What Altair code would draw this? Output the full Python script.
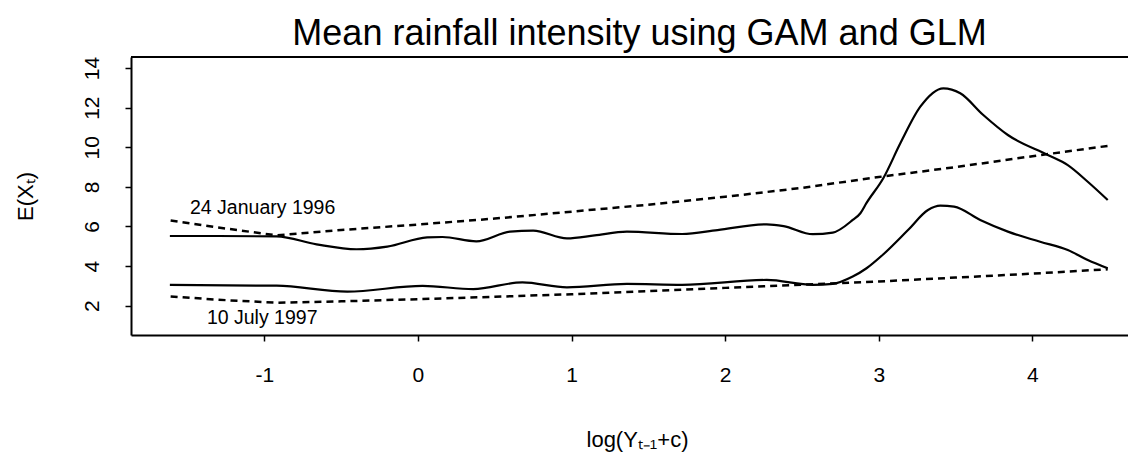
import altair as alt
import pandas as pd

# ---- data ----
gam_jan_x = [-1.615, -1.3, -0.92, -0.66, -0.40, -0.2, 0.06, 0.16, 0.38, 0.60, 0.75, 0.97, 1.15, 1.36,
             1.72, 1.95, 2.27, 2.38, 2.57, 2.70, 2.83, 2.88, 2.92, 3.03, 3.14, 3.27, 3.42, 3.53,
             3.68, 3.84, 4.10, 4.23, 4.36, 4.49]
gam_jan_y = [5.52, 5.52, 5.50, 5.10, 4.85, 4.98, 5.45, 5.47, 5.25, 5.74, 5.79, 5.40, 5.55, 5.74,
             5.62, 5.82, 6.11, 6.02, 5.61, 5.69, 6.33, 6.67, 7.19, 8.45, 10.2, 12.05, 12.98, 12.73,
             11.63, 10.62, 9.61, 9.10, 8.26, 7.34]

gam_jul_x = [-1.615, -0.92, -0.46, 0.03, 0.36, 0.68, 0.97, 1.36, 1.72, 2.27, 2.57, 2.70, 2.83, 2.92,
             3.03, 3.19, 3.32, 3.40, 3.49, 3.66, 3.84, 4.05, 4.23, 4.36, 4.49]
gam_jul_y = [3.05, 3.01, 2.71, 3.00, 2.84, 3.18, 2.93, 3.10, 3.05, 3.30, 3.05, 3.10, 3.47, 3.89,
             4.60, 5.82, 6.83, 7.05, 7.00, 6.33, 5.74, 5.23, 4.81, 4.31, 3.89]

glm_x = [-1.61, -1.3, -0.92, -0.5, 0, 0.5, 1, 1.5, 2, 2.5, 3, 3.5, 4, 4.49]
glm_jan_y = [6.30, 5.95, 5.55, 5.82, 6.10, 6.40, 6.75, 7.10, 7.50, 7.95, 8.50, 9.00, 9.55, 10.07]
glm_jul_y = [2.47, 2.30, 2.15, 2.22, 2.33, 2.45, 2.58, 2.74, 2.90, 3.06, 3.22, 3.42, 3.62, 3.84]

x_ticks = [-1, 0, 1, 2, 3, 4]
y_ticks = [2, 4, 6, 8, 10, 12, 14]

labels_text = ["24 January 1996", "10 July 1997"]
labels_x = [-1.484, -1.374]
labels_y = [6.93, 1.38]

# ---- tables ----
gam = pd.concat([
    pd.DataFrame({"x": gam_jan_x, "y": gam_jan_y, "series": "jan"}),
    pd.DataFrame({"x": gam_jul_x, "y": gam_jul_y, "series": "jul"}),
])
glm = pd.concat([
    pd.DataFrame({"x": glm_x, "y": glm_jan_y, "series": "jan"}),
    pd.DataFrame({"x": glm_x, "y": glm_jul_y, "series": "jul"}),
])
lab = pd.DataFrame({"x": labels_x, "y": labels_y, "t": labels_text})

W, H = 997, 278
FONT = "Liberation Sans"

xs = alt.Scale(domain=[-1.868, 4.622], nice=False, zero=False)
ys = alt.Scale(domain=[0.52, 14.56], nice=False, zero=False)

xaxis = alt.Axis(values=x_ticks, grid=False, title="log(Yₜ₋₁+c)",
                 labelExpr="'' + datum.value",
                 domainColor="black", domainWidth=2, tickColor="black", tickWidth=1.5,
                 tickSize=6, labelFontSize=21, labelPadding=23, labelColor="black",
                 labelFont=FONT, titleFont=FONT, titleFontSize=22, titleFontWeight="normal",
                 titleColor="black", titleX=506, titleY=104, titleBaseline="middle",
                 titleAlign="center", labelFlush=False)
yaxis = alt.Axis(values=y_ticks, grid=False, title="E(Xₜ)",
                 domainColor="black", domainWidth=2, tickColor="black", tickWidth=1.5,
                 tickSize=6, labelFontSize=21, labelPadding=23, labelColor="black",
                 labelAngle=270, labelAlign="center", labelBaseline="bottom",
                 labelFont=FONT, titleFont=FONT, titleFontSize=22, titleFontWeight="normal",
                 titleColor="black", titleX=-106, titleY=139, titleBaseline="middle",
                 titleAlign="center", titleAngle=270, labelFlush=False)

gam_layer = alt.Chart(gam).mark_line(color="black", strokeWidth=2.2, interpolate="monotone").encode(
    x=alt.X("x:Q", scale=xs, axis=xaxis),
    y=alt.Y("y:Q", scale=ys, axis=yaxis),
    detail="series:N",
)
glm_layer = alt.Chart(glm).mark_line(color="black", strokeWidth=2.5, strokeDash=[7, 5]).encode(
    x=alt.X("x:Q", scale=xs),
    y=alt.Y("y:Q", scale=ys),
    detail="series:N",
)
text_layer = alt.Chart(lab).mark_text(align="left", baseline="middle", fontSize=19.5,
                                      font=FONT, color="black").encode(
    x=alt.X("x:Q", scale=xs),
    y=alt.Y("y:Q", scale=ys),
    text="t:N",
)
top_border = alt.Chart(pd.DataFrame({"a": [0]})).mark_rule(color="black", strokeWidth=2).encode(
    x=alt.value(0), x2=alt.value(W), y=alt.value(0)
)

chart = alt.layer(glm_layer, gam_layer, text_layer, top_border).properties(
    width=W, height=H,
    title=alt.TitleParams("Mean rainfall intensity using GAM and GLM", font=FONT, fontSize=36,
                          fontWeight="normal", color="black", anchor="middle", dx=10, offset=3),
    autosize=alt.AutoSizeParams(type="none"),
    padding={"left": 123, "top": 49, "right": 0, "bottom": 117},
).configure_view(stroke=None).configure(background="white")

chart.save("out.html", embed_options={"renderer": "svg", "actions": False})
